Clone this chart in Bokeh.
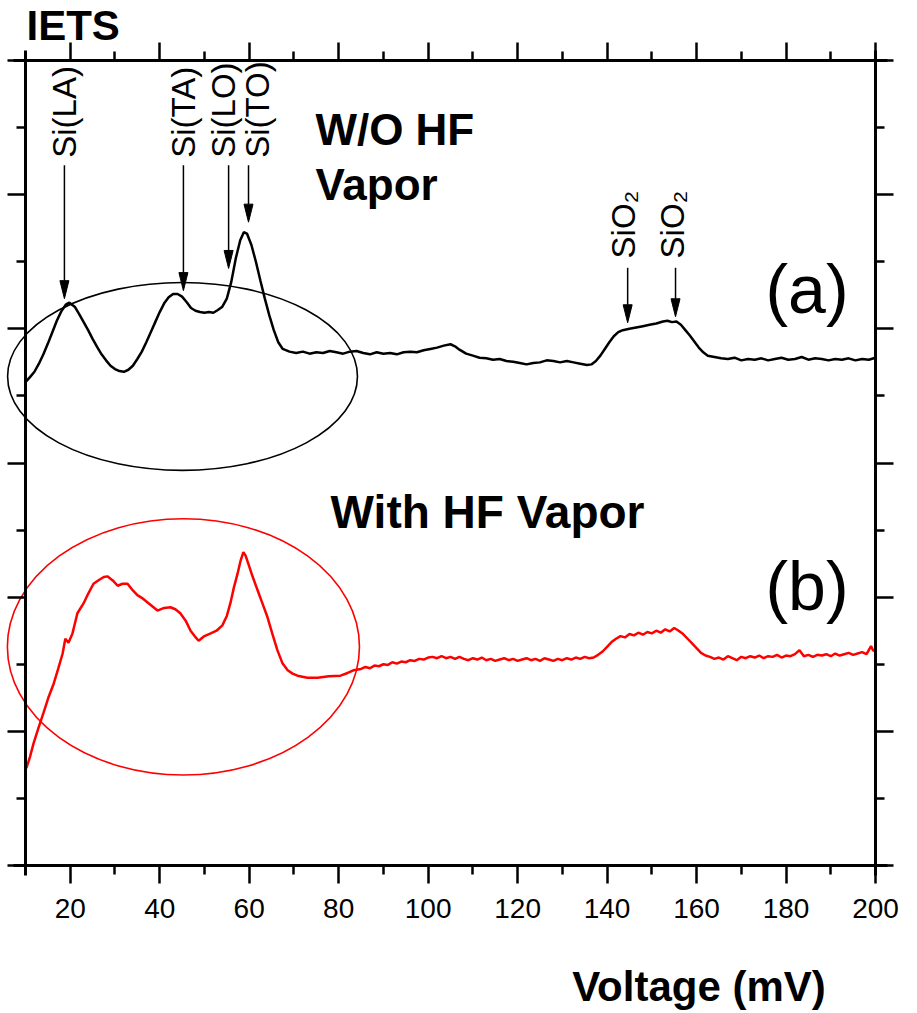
import math
from bokeh.plotting import figure
from bokeh.models import LinearAxis, FixedTicker, Label, Range1d, ColumnDataSource
from bokeh.core.properties import value
from bokeh.embed import file_html
from bokeh.resources import INLINE

# ---------------- data ----------------
x_ticks = [20, 40, 60, 80, 100, 120, 140, 160, 180, 200]
x_minor = [10, 30, 50, 70, 90, 110, 130, 150, 170, 190]
y_ticks = [0, 2, 4, 6, 8, 10, 12]
y_minor = [1, 3, 5, 7, 9, 11]

# curve (a): W/O HF vapor (black)
a_v = [10.2, 11, 12, 13, 14, 15, 16, 17, 18, 19, 19.8, 21, 22, 23, 24, 25, 26, 27, 28, 29,
       30, 31, 32, 33, 34, 35, 36, 37, 38, 39, 40, 41, 42, 43, 44, 45, 46, 47, 48, 49,
       50, 51, 52, 53, 54, 55, 56, 57, 58, 58.8, 59.5, 60.5, 61.5, 62.5, 63.5, 64.5, 65.5, 66.5, 67.5,
       69, 70.5, 72, 73.5, 75, 76.5, 78, 79.5, 81, 82.5, 84, 85.5, 87, 88.5, 90, 91.5, 93, 94.5,
       96, 97.5, 99, 100.5, 102, 103.5, 105, 106, 107, 108.5, 110, 111.5, 113, 114.5, 116, 117.5,
       119, 120.5, 122, 123.5, 125, 126.5, 128, 129.5, 131, 132.5, 134, 135.5, 136.5, 137.5, 138.5,
       139.5, 140.5, 141.5, 142.5, 143.5, 145, 146.5, 148, 149.5, 151, 152.5, 153.5, 154.5, 155.5,
       156.5, 157.5, 158.5, 159.5, 160.5, 161.5, 162.5, 164, 165.5, 167, 168.5, 170, 171.5, 173,
       174.5, 176, 177.5, 179, 180.5, 182, 183.5, 185, 186.5, 188, 189.5, 191, 192.5, 194, 195.5,
       197, 198.5, 200]
a_s = [7.22, 7.28, 7.36, 7.48, 7.62, 7.78, 7.95, 8.12, 8.26, 8.36, 8.39, 8.33, 8.22, 8.10, 7.98, 7.85, 7.73, 7.62, 7.53, 7.45,
       7.40, 7.37, 7.36, 7.39, 7.45, 7.55, 7.66, 7.80, 7.95, 8.10, 8.25, 8.38, 8.47, 8.52, 8.52, 8.48, 8.40, 8.31, 8.27, 8.25,
       8.24, 8.25, 8.24, 8.28, 8.33, 8.45, 8.70, 9.05, 9.32, 9.44, 9.42, 9.25, 9.00, 8.72, 8.45, 8.20, 7.98, 7.80, 7.70,
       7.66, 7.64, 7.66, 7.63, 7.65, 7.64, 7.67, 7.65, 7.63, 7.66, 7.67, 7.64, 7.62, 7.65, 7.63, 7.64, 7.62, 7.65,
       7.66, 7.65, 7.68, 7.70, 7.72, 7.75, 7.77, 7.74, 7.69, 7.63, 7.60, 7.57, 7.56, 7.54, 7.55, 7.52,
       7.51, 7.49, 7.47, 7.49, 7.50, 7.53, 7.52, 7.50, 7.52, 7.50, 7.48, 7.46, 7.47, 7.52, 7.60,
       7.70, 7.80, 7.89, 7.95, 7.98, 8.00, 8.02, 8.04, 8.06, 8.08, 8.11, 8.12, 8.10, 8.11,
       8.06, 7.98, 7.90, 7.81, 7.72, 7.65, 7.60, 7.58, 7.56, 7.55, 7.57, 7.53, 7.55, 7.54,
       7.56, 7.53, 7.55, 7.57, 7.54, 7.55, 7.58, 7.54, 7.56, 7.55, 7.53, 7.55, 7.54, 7.56, 7.53,
       7.55, 7.54, 7.57]

# curve (b): with HF vapor (red)
b_v = [10.2, 11, 11.8, 12.9, 14, 15.1, 16.3, 17.3, 18.3, 18.9, 19.6, 20.5, 21.6, 23, 24, 25.2, 26.5, 27.5, 28.3, 29.5,
       30.6, 31.7, 32.8, 34, 35, 36, 37.3, 38.4, 39.5, 41, 42.4, 43.5, 44.6, 45.8, 46.9, 47.8, 48.7, 50, 51.4, 52.7,
       54, 55, 55.8, 56.6, 57.4, 58.1, 58.7, 59.2, 59.8, 60.8, 61.9, 63, 64.1, 65.2, 66.3, 67.4, 68.6, 69.7, 70.8, 73,
       75.3, 77.8, 80.4, 82, 83.3,
       85, 86, 87, 88, 89, 90, 91, 92, 93, 94, 95, 96, 97, 98, 99, 100, 101, 102, 103, 104, 105, 106, 107, 108, 109,
       110, 111, 112, 113, 114, 115, 116, 117, 118, 119, 120, 121, 122, 123, 124, 125, 126, 127, 128, 129,
       130, 131, 132, 133, 134, 135, 136, 137, 138, 139, 140, 141, 142, 143, 144, 145, 146, 147, 148, 149,
       150, 151, 152, 153, 154, 155, 156, 157, 158, 159, 160, 161, 162, 163, 164, 165, 166, 167, 168, 169,
       170, 171, 172, 173, 174, 175, 176, 177, 178, 179, 180, 181, 182, 183, 184, 185, 186, 187, 188, 189,
       190, 191, 192, 193, 194, 195, 196, 197, 198, 199, 199.5, 200]
b_s = [1.45, 1.62, 1.82, 2.05, 2.27, 2.50, 2.71, 2.93, 3.16, 3.38, 3.32, 3.46, 3.76, 3.91, 4.05, 4.20, 4.26, 4.30, 4.31, 4.25,
       4.17, 4.20, 4.20, 4.10, 4.03, 3.99, 3.92, 3.86, 3.80, 3.84, 3.85, 3.82, 3.76, 3.65, 3.50, 3.42, 3.35, 3.42, 3.46, 3.50,
       3.58, 3.72, 3.91, 4.15, 4.35, 4.55, 4.67, 4.62, 4.50, 4.30, 4.10, 3.90, 3.70, 3.45, 3.21, 3.02, 2.91, 2.86, 2.83, 2.80,
       2.80, 2.82, 2.83, 2.87, 2.91,
       2.93, 2.96, 2.94, 2.98, 2.97, 3.00, 2.99, 3.03, 3.01, 3.04, 3.03, 3.06, 3.05, 3.08, 3.07, 3.10, 3.11, 3.09, 3.12, 3.09,
       3.11, 3.08, 3.11, 3.08, 3.06, 3.09, 3.07, 3.10, 3.06, 3.08, 3.05, 3.07, 3.09, 3.06, 3.08, 3.05, 3.07, 3.09, 3.06, 3.08,
       3.05, 3.09, 3.07, 3.05, 3.08, 3.06, 3.09, 3.07, 3.10, 3.08, 3.11, 3.09, 3.10, 3.14, 3.19, 3.26, 3.33, 3.38, 3.42, 3.40,
       3.45, 3.43, 3.47, 3.44, 3.48, 3.46, 3.50, 3.47, 3.52, 3.49, 3.54, 3.50, 3.45, 3.38, 3.31, 3.24, 3.17, 3.13, 3.11, 3.08,
       3.10, 3.07, 3.12, 3.09, 3.06, 3.11, 3.09, 3.12, 3.10, 3.13, 3.09, 3.12, 3.11, 3.14, 3.10, 3.13, 3.12, 3.15, 3.21, 3.12,
       3.14, 3.11, 3.14, 3.13, 3.15, 3.12, 3.16, 3.13, 3.15, 3.17, 3.14, 3.16, 3.18, 3.15, 3.27, 3.20, 3.22]

# peak annotations
ann_text = ["Si(LA)", "Si(TA)", "Si(LO)", "Si(TO)", "SiO\u2082", "SiO\u2082"]
ann_x = [18.7, 45.3, 55.4, 59.85, 144.6, 155.3]       # arrow position (mV)
ann_tip = [8.45, 8.57, 8.90, 9.59, 8.09, 8.18]        # arrow tip
ann_top = [10.44, 10.44, 10.44, 10.44, 8.91, 8.91]    # arrow tail
ann_text_y = [10.55, 10.55, 10.55, 10.55, 9.05, 9.05]
ann_text_dx = [0, 0, -5, 9, -4, -3]

# circled regions
ell_x = [45.1, 45.3]
ell_y = [7.29, 3.26]
ell_w = [78.2, 78.7]
ell_h = [2.80, 3.82]
ell_color = ["#000000", "#ff0000"]

# ---------------- figure ----------------
W, H = 917, 1013
FL, FR, FT, FB = 25, 875, 60, 865          # axis box in pixels
X0, X1, Y0, Y1 = 10, 200, 0, 12
sx = (X1 - X0) / (FR - FL)                 # mV per pixel
sy = (Y1 - Y0) / (FB - FT)                 # units per pixel

p = figure(width=W, height=H, output_backend="svg", toolbar_location=None,
           x_range=Range1d(X0 - FL * sx, X0 + (W - FL) * sx),
           y_range=Range1d(Y0 - (H - FB) * sy, Y1 + FT * sy),
           min_border=0, min_border_left=0, min_border_right=0,
           min_border_top=0, min_border_bottom=0,
           x_axis_location=None, y_axis_location=None)
p.outline_line_color = None
p.grid.visible = False
p.background_fill_color = "white"
p.border_fill_color = "white"

def style_axis(ax, ticks, minor, labels, loc, bounds):
    ax.ticker = FixedTicker(ticks=ticks, minor_ticks=minor)
    ax.fixed_location = loc
    ax.bounds = bounds
    ax.axis_line_width = 3
    ax.axis_line_color = "black"
    ax.major_tick_line_width = 2.5
    ax.minor_tick_line_width = 2.5
    ax.major_tick_out = 18
    ax.major_tick_in = 0
    ax.minor_tick_out = 9
    ax.minor_tick_in = 0
    if labels:
        ax.major_label_text_font = "Liberation Sans"
        ax.major_label_text_font_size = "28px"
        ax.major_label_text_color = "black"
        ax.major_label_standoff = 15
    else:
        ax.major_label_overrides = {t: "" for t in ticks}

xb = (X0 - 12 * sx, X1 + 12 * sx)
yb = (Y0 - 10 * sy, Y1 + 10 * sy)
bx = LinearAxis(); style_axis(bx, x_ticks, x_minor, True, Y0, xb); p.add_layout(bx, "below")
tx = LinearAxis(); style_axis(tx, x_ticks, x_minor, False, Y1, xb); p.add_layout(tx, "above")
ly = LinearAxis(); style_axis(ly, y_ticks, y_minor, False, X0, yb); p.add_layout(ly, "left")
ry = LinearAxis(); style_axis(ry, y_ticks, y_minor, False, X1, yb); p.add_layout(ry, "right")

# curves
p.line(a_v, a_s, line_color="black", line_width=2.5)
p.line(b_v, b_s, line_color="#ff0000", line_width=2.5)

# ellipses
p.ellipse(x=ell_x, y=ell_y, width=ell_w, height=ell_h, fill_color=None,
          line_color=ell_color, line_width=1.6)

# arrows
head_len, head_hw = 18, 4.5
p.segment(x0=ann_x, y0=ann_top, x1=ann_x,
          y1=[t + head_len * sy for t in ann_tip], line_color="black", line_width=1.5)
p.patches(xs=[[x - head_hw * sx, x + head_hw * sx, x] for x in ann_x],
          ys=[[t + head_len * sy, t + head_len * sy, t] for t in ann_tip],
          fill_color="black", line_color="black", line_width=1)

src = ColumnDataSource(dict(x=ann_x, y=ann_text_y, t=ann_text, dx=ann_text_dx))
p.text(x="x", y="y", text="t", x_offset="dx", source=src, angle=math.pi / 2,
       text_align="left", text_baseline="middle", text_font=value("Liberation Sans"),
       text_font_size="33px", text_color="black")

# text labels
def lab(x, y, t, size, bold=True, align="left", baseline="top"):
    p.add_layout(Label(x=x, y=y, text=t, text_font="Liberation Sans",
                       text_font_size=size, text_font_style="bold" if bold else "normal",
                       text_align=align, text_baseline=baseline, text_color="black"))

lab(74.8, 11.34, "W/O HF", "44px")
lab(74.8, 10.51, "Vapor", "44px")
lab(78.2, 5.66, "With HF Vapor", "46px")
lab(175.4, 8.60, "(a)", "68px", bold=False, baseline="middle")
lab(175.4, 4.16, "(b)", "68px", bold=False, baseline="middle")
lab(10.22, 12.865, "IETS", "42px")
lab(132.2, -1.446, "Voltage (mV)", "42px")

open("out.html", "w").write(file_html(p, INLINE))
